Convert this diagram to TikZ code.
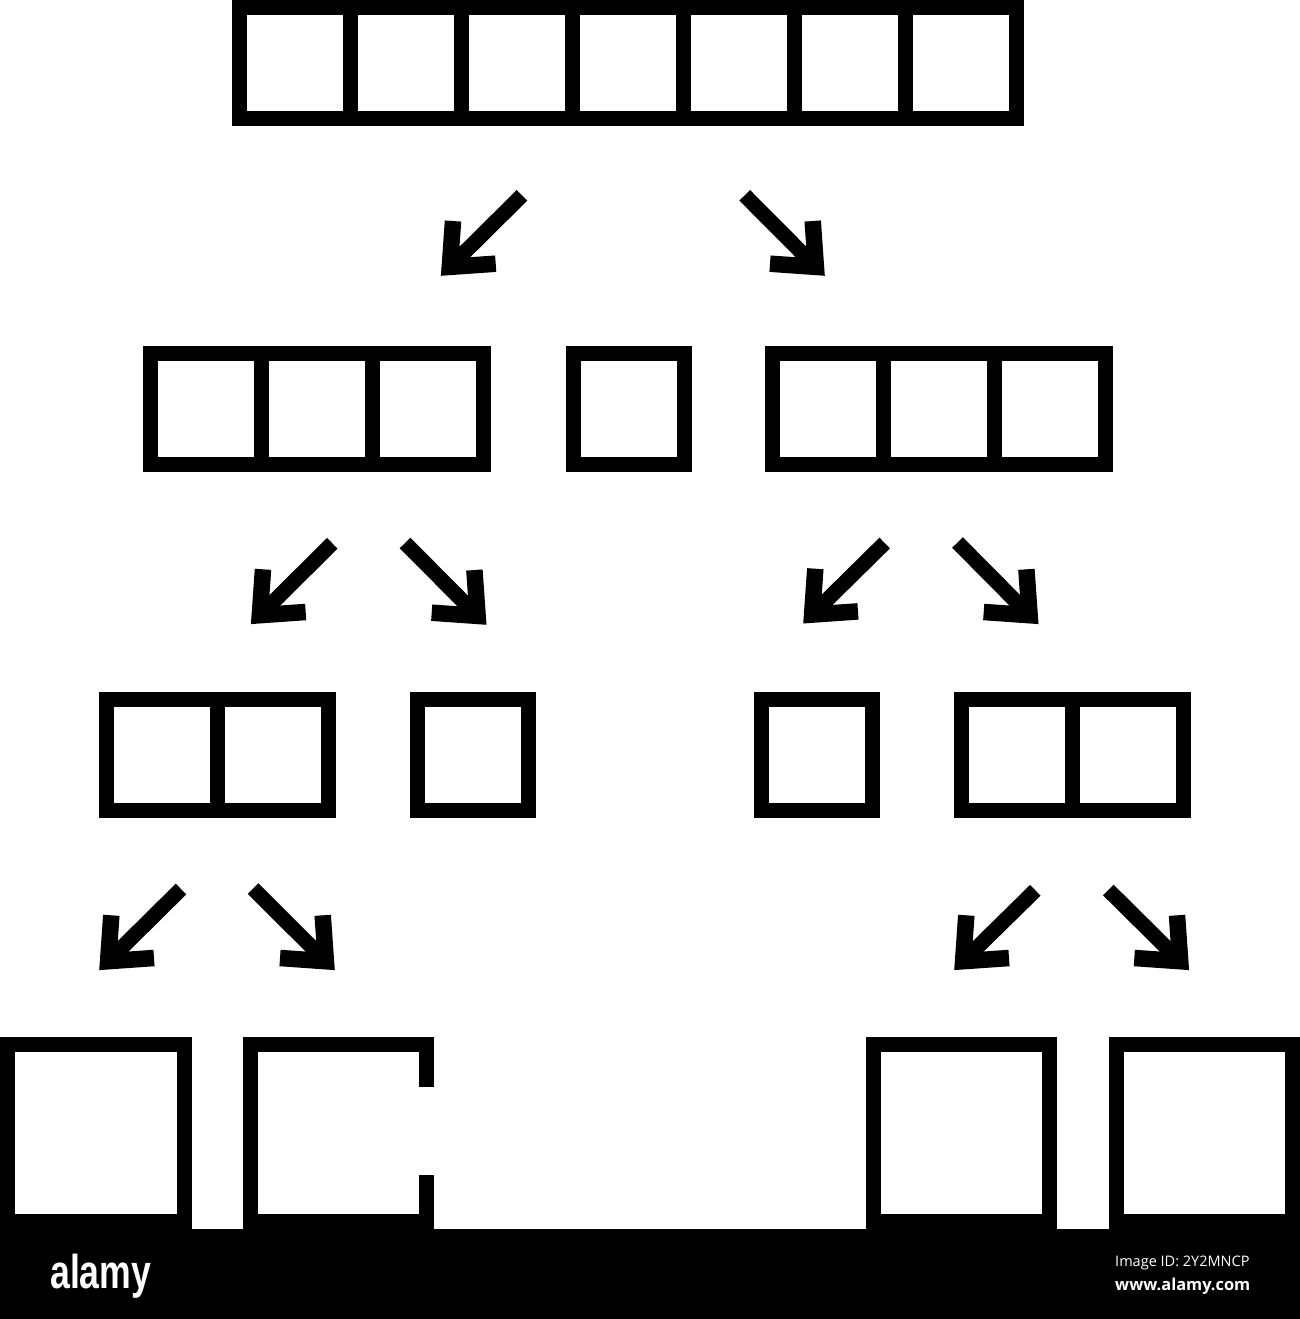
\documentclass[tikz,border=0pt]{standalone}
\usepackage{fontspec}
\setmainfont{Liberation Sans}
\newfontfamily\logofont{Liberation Sans}
\newfontfamily\idfont{Open Sans}
\usetikzlibrary{calc}
\newcommand\splitarrow[3]{%
  \draw[shaft] (#1) -- (#2);
  \draw[arrowhead] ($(#2)+({#3+41}:46)$) -- (#2) -- ($(#2)+({#3-41}:46)$);
}
\begin{document}
\begin{tikzpicture}[x=1pt,y=-1pt,
  cell/.style={draw=black, line width=15pt, minimum size=111pt, inner sep=0pt, outer sep=0pt},
  bigcell/.style={cell, minimum size=176.3pt},
  shaft/.style={line width=15pt, line cap=butt},
  headline/.style={line width=15pt, line cap=butt, line join=miter, miter limit=20},
  arrowhead/.style={headline, line width=16.5pt},
  wm/.style={anchor=base west, inner sep=0pt, text=white}
]
\useasboundingbox (0,0) rectangle (1300,1319);
\fill[white] (0,0) rectangle (1300,1319);

% level 1: seven cells
\foreach \i/\x in {1/295,2/406,3/517,4/628,5/739,6/850,7/961}
  \node[cell] (t\i) at (\x,63) {};

% level 2
\foreach \i/\x in {1/206,2/317,3/428}
  \node[cell] (l\i) at (\x,409) {};
\node[cell] (m) at (628.5,409) {};
\foreach \i/\x in {1/827.5,2/938.5,3/1049.5}
  \node[cell] (r\i) at (\x,409) {};

% level 3
\node[cell] (ll1) at (161.5,755) {};
\node[cell] (ll2) at (272.5,755) {};
\node[cell] (lm) at (472.5,755) {};
\node[cell] (rm) at (816.5,755) {};
\node[cell] (rr1) at (1016.5,755) {};
\node[cell] (rr2) at (1127.5,755) {};

% level 4
\node[bigcell] (b1) at (96,1133) {};
\node[bigcell, draw=none] (b2) at (338.4,1133) {};
\draw[headline] ($(b2.north east)+(0,42)$) -- (b2.north east) -- (b2.north west)
  -- (b2.south west) -- (b2.south east) -- ($(b2.south east)+(0,-46)$);
\node[bigcell] (b3) at (961.7,1133) {};
\node[bigcell] (b4) at (1204.3,1133) {};

% arrows: start / corner coordinates
\coordinate (a1s) at (522,195.3);   \coordinate (a1c) at (449.8,266.9);
\coordinate (a2s) at (744.7,195.3); \coordinate (a2c) at (815.9,266.9);
\coordinate (a3s) at (332.3,543.3); \coordinate (a3c) at (259.8,615.2);
\coordinate (a4s) at (405,543);     \coordinate (a4c) at (477.6,615.9);
\coordinate (a5s) at (884.7,543);   \coordinate (a5c) at (812.1,614.6);
\coordinate (a6s) at (957.5,542.5); \coordinate (a6c) at (1029.6,615.2);
\coordinate (a7s) at (181,889);     \coordinate (a7c) at (108.1,961.2);
\coordinate (a8s) at (253,888.5);   \coordinate (a8c) at (325.9,961.2);
\coordinate (a9s) at (1035.3,890.3);\coordinate (a9c) at (963.1,961.2);
\coordinate (a10s) at (1108.3,890); \coordinate (a10c) at (1180.2,961.2);

\splitarrow{a1s}{a1c}{315}
\splitarrow{a2s}{a2c}{225}
\splitarrow{a3s}{a3c}{315}
\splitarrow{a4s}{a4c}{225}
\splitarrow{a5s}{a5c}{315}
\splitarrow{a6s}{a6c}{225}
\splitarrow{a7s}{a7c}{315}
\splitarrow{a8s}{a8c}{225}
\splitarrow{a9s}{a9c}{315}
\splitarrow{a10s}{a10c}{225}

% watermark bar
\fill[black] (0,1229) rectangle (1300,1319);
\node[wm, font=\logofont\bfseries\fontsize{47.5}{47.5}\selectfont] (logo) at (50,1288) {\scalebox{0.75}[1]{alamy}};
\node[wm, font=\idfont\fontsize{14.5}{14.5}\selectfont] (imgid) at (1115,1266) {Image ID: 2Y2MNCP};
\node[wm, font=\idfont\bfseries\fontsize{16.4}{16.4}\selectfont] (url) at (1115,1290) {www.alamy.com};
\end{tikzpicture}
\end{document}
